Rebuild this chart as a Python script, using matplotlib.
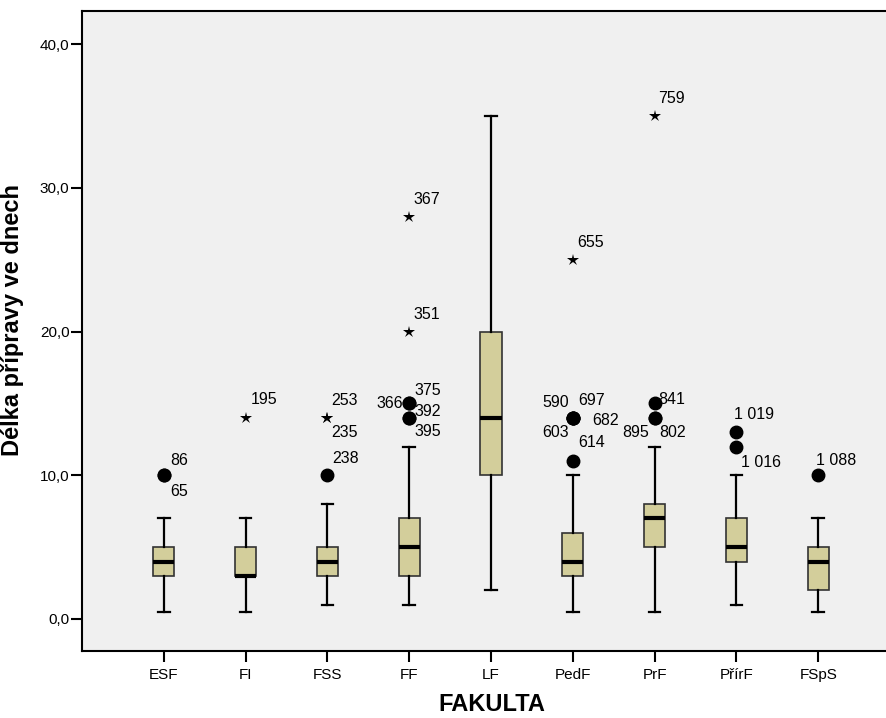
import matplotlib.pyplot as plt
from matplotlib.ticker import FuncFormatter

plt.rcParams['font.family'] = ['Liberation Sans', 'DejaVu Sans']

# box statistics per faculty
faculties = ['ESF', 'FI', 'FSS', 'FF', 'LF', 'PedF', 'PrF', 'PřírF', 'FSpS']
whisk_lo = [0.5, 0.5, 1, 1, 2, 0.5, 0.5, 1, 0.5]
q1 = [3, 3, 3, 3, 10, 3, 5, 4, 2]
median = [4, 3, 4, 5, 14, 4, 7, 5, 4]
q3 = [5, 5, 5, 7, 20, 6, 8, 7, 5]
whisk_hi = [7, 7, 8, 12, 35, 10, 12, 10, 7]

# outliers: faculty index, value, kind (o = outlier, * = extreme), case label
out_cat = [0, 0, 1, 2, 2, 2, 3, 3, 3, 3, 3, 3, 5, 5, 5, 5, 5, 5, 6, 6, 6, 6, 7, 7, 8]
out_val = [10, 10, 14, 14, 14, 10, 28, 20, 15, 15, 14, 14, 25, 14, 14, 14, 14, 11, 35, 15, 14, 14, 13, 12, 10]
out_kind = ['o', 'o', '*', '*', '*', 'o', '*', '*', 'o', 'o', 'o', 'o', '*', 'o', 'o', 'o', 'o', 'o',
            '*', 'o', 'o', 'o', 'o', 'o', 'o']
out_label = ['86', '65', '195', '253', '235', '238', '367', '351', '375', '366', '392', '395',
             '655', '590', '697', '603', '682', '614', '759', '841', '895', '802', '1 019', '1 016', '1 088']

# label offsets in pixels (dx, dy up) and alignment
lab_off = [(6, 15), (6, -16), (5, 18), (4, 17), (4, -15), (5, 17), (4, 17), (4, 17), (5, 13), (-6, 0),
           (5, 6), (5, -14), (4, 17), (-4, 15), (5, 17), (-4, -15), (19, -3), (5, 18), (4, 17), (4, 4),
           (-6, -15), (5, -15), (-2, 18), (5, -16), (-2, 15)]
lab_ha = ['left'] * len(out_label)
for i in (9, 13, 15, 20):
    lab_ha[i] = 'right'

fig = plt.figure(figsize=(8.87, 7.18), dpi=100)
ax = fig.add_axes([82 / 887, 67 / 718, 818 / 887, 640 / 718])
ax.set_facecolor('#f0f0f0')

stats = []
for i in range(len(faculties)):
    stats.append({'whislo': whisk_lo[i], 'q1': q1[i], 'med': median[i], 'q3': q3[i],
                  'whishi': whisk_hi[i], 'fliers': []})

positions = list(range(1, len(faculties) + 1))
ax.bxp(stats, positions=positions, widths=0.26, patch_artist=True, showfliers=False,
       boxprops=dict(facecolor='#d3ce9b', edgecolor='#333333', linewidth=1.2),
       medianprops=dict(color='black', linewidth=3, solid_capstyle='butt'),
       whiskerprops=dict(color='black', linewidth=1.6),
       capprops=dict(color='black', linewidth=1.6),
       capwidths=0.14)

for c, v, k, lab, off, ha in zip(out_cat, out_val, out_kind, out_label, lab_off, lab_ha):
    x = positions[c]
    if k == 'o':
        ax.plot(x, v, 'o', color='black', ms=9, zorder=4)
    else:
        ax.plot(x, v, '*', color='black', ms=9, mew=0, zorder=4)
    ax.annotate(lab, (x, v), xytext=off, textcoords='offset pixels',
                ha=ha, va='center', fontsize=11.5)

ax.set_xlim(0, 10)
ax.set_ylim(-(651 - 619) / 14.375, (619 - 11) / 14.375)
ax.set_xticks(positions)
ax.set_xticklabels(faculties, fontsize=11)
ax.set_yticks([0, 10, 20, 30, 40])
ax.yaxis.set_major_formatter(FuncFormatter(lambda v, p: f'{v:.1f}'.replace('.', ',')))
ax.tick_params(axis='y', labelsize=11, length=8, width=1.5, pad=1)
ax.tick_params(axis='x', length=8, width=1.5, pad=4)
for s in ax.spines.values():
    s.set_linewidth(1.5)
ax.spines['right'].set_visible(False)

ax.set_xlabel('FAKULTA', fontsize=17, fontweight='bold')
ax.set_ylabel('Délka přípravy ve dnech', fontsize=17, fontweight='bold')
ax.xaxis.set_label_coords(0.501, -0.066)
ax.yaxis.set_label_coords(-0.071, 0.517)

fig.savefig('out.png', dpi=100)
